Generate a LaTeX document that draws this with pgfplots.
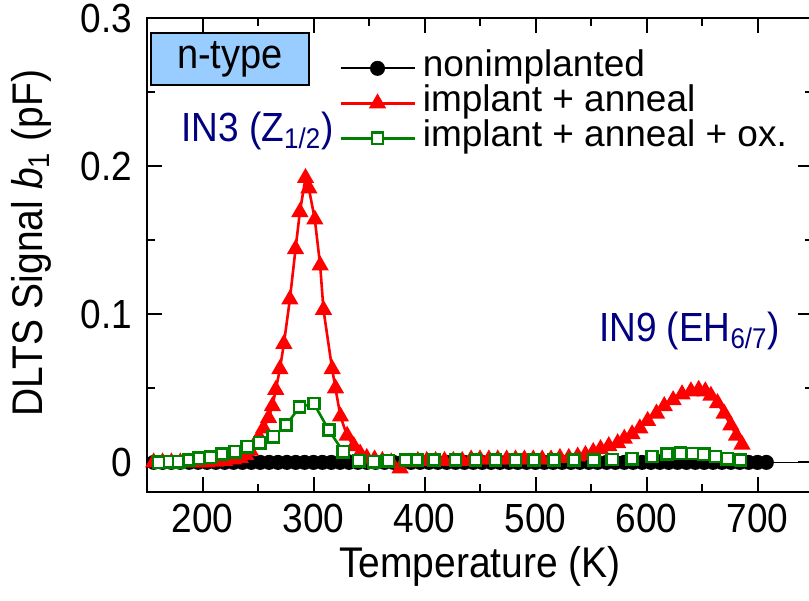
\documentclass[border=0pt]{standalone}
\usepackage{graphicx}
\usepackage{pgfplots}
\pgfplotsset{compat=1.18}
\usepackage{fontspec}
\setmainfont{Liberation Sans}
\definecolor{dgreen}{RGB}{0,128,0}
\definecolor{navy}{RGB}{0,0,128}
\definecolor{boxblue}{RGB}{153,204,255}
% the original lettering is a little taller than Arial
\newcommand{\st}[1]{\scalebox{1}[1.1]{#1}}

% nonimplanted
\pgfplotstableread{
T v
156 0
164 0
172 0
180 0
188 0
196 0
204 0
212 0
220 0
228 0
236 0
244 0
252 0
260 0
268 0
276 0
284 0
292 0
300 0
308 0
316 0
324 0
332 0
340 0
348 0
356 0
364 0
372 0
380 0
388 0
396 0
404 0
412 0
420 0
428 0
436 0
444 0
452 0
460 0
468 0
476 0
484 0
492 0
500 0
508 0
516 0
524 0
532 0
540 0
548 0
556 0
564 0
572 0
580 0
588 0
596 0
604 0
612 0
620 0
628 0
636 0
644 0
652 0
660 0
668 0
676 0
684 0
692 0
700 0
708 0
}\nonimpl

% implant + anneal
\pgfplotstableread{
T v
156 0
164 0
172 0
180 0
188 0
196 0
204 0
212 0.0005
220 0.001
228 0.002
234 0.003
239 0.005
243 0.008
247 0.012
251 0.017
255 0.023
259.5 0.030
263 0.038
266 0.049
269.7 0.063
273.3 0.080
278.7 0.110
283.8 0.144
287.7 0.169
292.8 0.192
295.8 0.185
301.2 0.164
306 0.133
309 0.103
316.8 0.063
319.8 0.050
324.3 0.031
330.3 0.018
336.3 0.011
342 0.006
348 0.003
355 0.002
362 0.001
370 0.0
378 -0.004
386 0.0
394 0.001
402 0.001
410 0.001
418 0.001
426 0.001
434 0.001
442 0.002
450 0.002
458 0.002
466 0.002
474 0.002
482 0.002
490 0.002
498 0.002
506 0.002
514 0.002
522 0.003
530 0.003
538 0.004
545 0.005
552 0.007
558.6 0.009
566 0.011
574 0.013
580 0.016
587 0.019
594 0.023
601 0.028
609 0.033
616 0.038
624 0.042
632 0.046
640 0.048
647 0.049
653 0.048
658 0.045
664 0.040
670 0.033
676 0.025
681 0.018
686 0.012
}\anneal

% implant + anneal + ox.
\pgfplotstableread{
T v
160.6 0.000
170.5 0.0005
178.6 0.0005
187.7 0.0017
196.7 0.0028
207.2 0.0035
217.7 0.0057
229.1 0.0072
240.3 0.0106
251.6 0.0133
263.7 0.0174
275.4 0.0252
287.4 0.0374
300.3 0.0397
313.8 0.0218
326.8 0.0072
340.8 0.0012
354.3 0.0005
367.4 0.0012
382.9 0.0017
393.4 0.0017
408.4 0.0017
427.9 0.0017
445.9 0.0017
464 0.0017
482 0.0017
498.5 0.0017
516.5 0.0017
534.5 0.0017
552.5 0.0017
569.1 0.0020
587.1 0.0025
605.1 0.0040
618.6 0.0057
630.6 0.0062
641.2 0.0060
651.6 0.0055
662.2 0.0040
672.7 0.0025
684.7 0.0017
}\anneox

\begin{document}
\begin{tikzpicture}
\begin{axis}[
  name=ax,
  scale only axis, width=333pt, height=237pt,
  xmin=150, xmax=750, ymin=-0.02, ymax=0.3,
  xtick={200,300,...,700}, minor x tick num=1,
  ytick={0,0.1,0.2,0.3}, minor y tick num=1,
  tick align=inside, major tick length=7.5pt, minor tick length=4pt,
  axis line style={line width=1pt},
  every tick/.style={black, line width=1pt},
  /pgf/number format/assume math mode=true,
  xticklabel={\st{\pgfmathprintnumber{\tick}}},
  yticklabel={\st{\pgfmathprintnumber[fixed]{\tick}}},
  yticklabel style={xshift=-4pt},
  xticklabel style={yshift=-2.5pt},
  tick label style={font=\fontsize{18.5}{22}\selectfont},
  label style={font=\fontsize{19.5}{23}\selectfont},
  xlabel={\st{Temperature (K)}},
  xlabel style={at={(rel axis cs:0.5,0)}, anchor=north, inner sep=0pt, yshift=-27pt},
  ylabel={\st{DLTS Signal \textit{b}\textsubscript{1} (pF)}},
  ylabel style={at={(rel axis cs:-0.173,0.525)}, anchor=center, inner sep=0pt},
  legend style={draw=none, fill=none, at={(0.279,0.940)}, anchor=north west,
    font=\fontsize{18.5}{22}\selectfont,
    nodes={inner sep=1pt, text height=12pt, text depth=3.5pt},
    row sep=0pt, column sep=2.5pt},
  legend cell align=left,
  legend image code/.code={\draw[mark repeat=2,mark phase=2]
    plot coordinates {(0pt,0pt) (18.5pt,0pt) (37pt,0pt)};},
]
\addplot[black, line width=1.1pt, mark=*, mark size=3.2pt] table[x=T,y=v] {\nonimpl};
\addplot[red, line width=1.3pt, mark=triangle*, mark size=3.7pt, mark options={fill=red}] table[x=T,y=v] {\anneal};
\addplot[dgreen, line width=1.3pt, mark=square*, mark size=2.8pt, mark options={fill=white}] table[x=T,y=v] {\anneox};
\addplot[black, line width=0.8pt, forget plot] coordinates {(708,0) (750,0)};
\legend{nonimplanted, implant + anneal, implant + anneal + ox.}

\draw[line width=1pt, fill=boxblue] (rel axis cs:0.006,0.859) rectangle (rel axis cs:0.243,0.968);
\node[font=\fontsize{19}{22}\selectfont] at (rel axis cs:0.1246,0.9135) {\st{n-type}};
\node[text=navy, font=\fontsize{18.5}{22}\selectfont] at (axis cs:249.5,0.224) {\st{IN3 (Z\textsubscript{1/2})}};
\node[text=navy, font=\fontsize{18.5}{22}\selectfont] at (axis cs:638.7,0.089) {\st{IN9 (EH\textsubscript{6/7})}};
\end{axis}
\pgfresetboundingbox
\path ([xshift=-73.5pt,yshift=-54pt]ax.south west) rectangle ([xshift=-2pt,yshift=9pt]ax.north east);
\end{tikzpicture}
\end{document}
